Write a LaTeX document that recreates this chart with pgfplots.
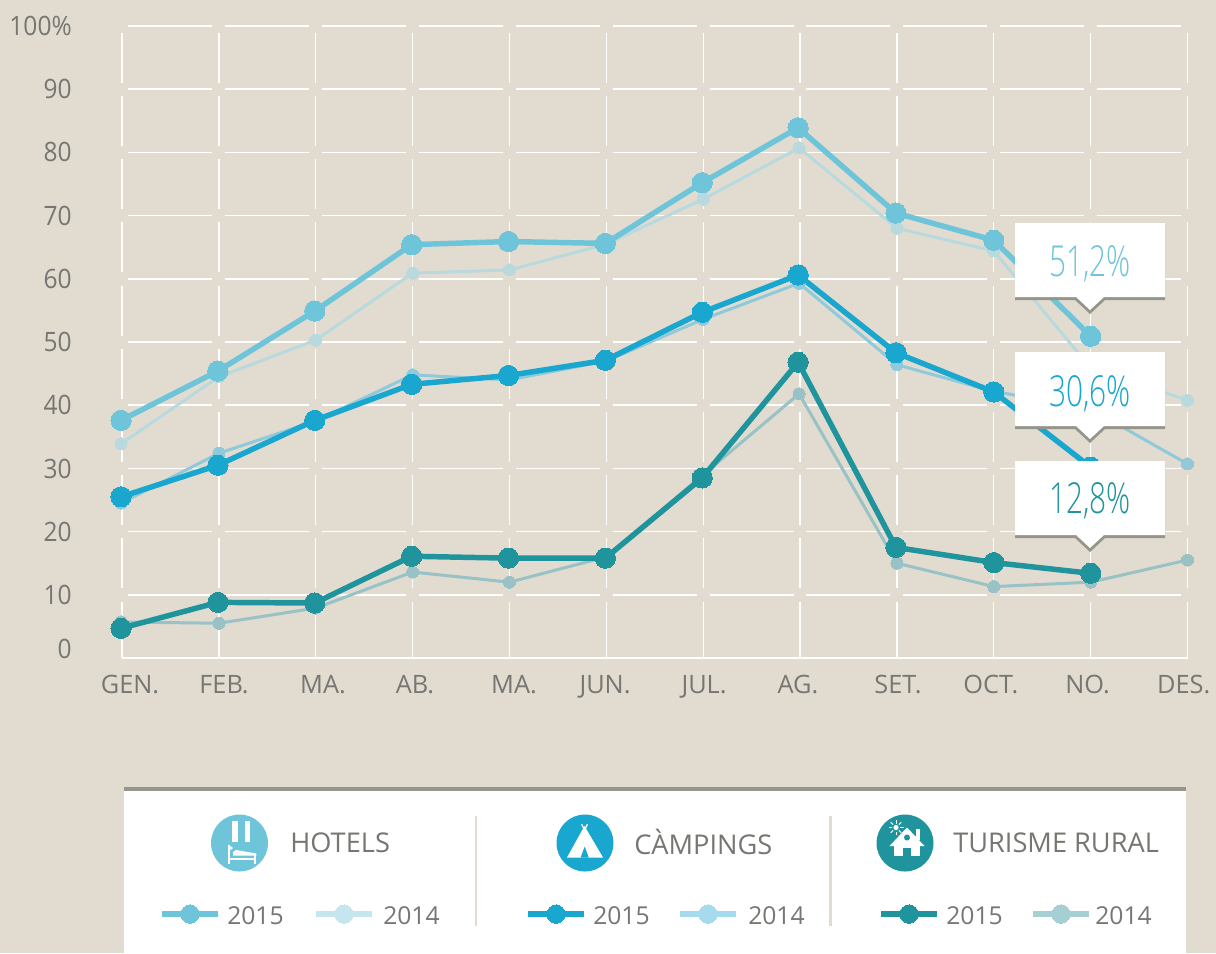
\documentclass[border=0pt]{standalone}
\usepackage{fontspec}
\usepackage{pgfplots}
\pgfplotsset{compat=1.18}
\setmainfont{Open Sans}
\newfontfamily\lightf[FakeStretch=0.70]{Open Sans Light}
\newfontfamily\condf[FakeStretch=0.92]{Open Sans}
\definecolor{bg}{HTML}{E2DCD0}
\definecolor{txt}{HTML}{767672}
\definecolor{stripe}{HTML}{96958A}
\definecolor{hot}{HTML}{6EC5DA}
\definecolor{cam}{HTML}{1AA7CF}
\definecolor{rur}{HTML}{1F949D}
\definecolor{hotb}{HTML}{B8DADE}
\definecolor{camb}{HTML}{90C9D9}
\definecolor{rurb}{HTML}{98C2C5}
\definecolor{hotl}{HTML}{C5E6EF}
\definecolor{caml}{HTML}{A5DBEC}
\definecolor{rurl}{HTML}{A5D0D3}
\pgfplotsset{
  y15/.style={line width=4.1pt, mark=*, mark size=7.6pt, mark options={solid,line width=0pt,draw=none}},
  y14/.style={line width=2.25pt, mark=*, mark size=4.5pt, mark options={solid,line width=0pt,draw=none}},
  leg/.style={line width=3.9pt, mark=*, mark size=6.9pt, mark options={solid,line width=0pt,draw=none}, forget plot},
}
\begin{document}
\begin{tikzpicture}
\begin{scope}[x=0.75pt,y=-0.75pt]
  \fill[bg] (0,0) rectangle (1216,953);
\end{scope}
\begin{axis}[
  at={(91.5pt,-493.5pt)}, anchor=origin,
  scale only axis, width=799.125pt, height=474pt,
  xmin=0, xmax=11, ymin=0, ymax=100, clip=false,
  axis lines=left,
  y axis line style={draw=none},
  x axis line style={white, line width=1.9pt, -},
  major tick length=0pt,
  tick style={draw=none},
  xtick={0.083,1.053,2.075,3.025,4.047,4.987,6.009,6.979,8.012,8.97,9.968,10.96},
  xticklabels={GEN.,FEB.,MA.,AB.,MA.,JUN.,JUL.,AG.,SET.,OCT.,NO.,DES.},
  xticklabel style={anchor=base, yshift=-26.25pt, text=txt, inner sep=0pt, font=\fontsize{19}{19}\selectfont},
  ytick={1.4,9.9,19.9,29.9,40,50,60,70,80,90,100},
  yticklabels={0,10,20,30,40,50,60,70,80,90,100\%},
  yticklabel style={anchor=east, xshift=-37.5pt, text=txt, inner sep=0pt, font=\fontsize{20}{20}\selectfont\condf},
  extra x ticks={0,1,2,3,4,5,6,7,8,9,10,11},
  extra x tick labels={},
  extra x tick style={xmajorgrids=true, major grid style={white, line width=1pt,
    dash pattern=on 42.3pt off 9.9pt on 37.5pt off 9.9pt on 37.5pt off 9.9pt on 37.5pt off 9.9pt on 37.5pt off 9.9pt on 37.5pt off 9.9pt on 37.5pt off 9.9pt on 37.5pt off 9.9pt on 37.5pt off 9.9pt on 37.5pt off 30pt}},
  extra y ticks={10,20,30,40,50,60,70,80,90,100},
  extra y tick labels={},
  extra y tick style={ymajorgrids=true, major grid style={white, line width=1.1pt,
    dash pattern=on 63pt off 9.645pt, dash phase=67.82pt}},
]
% Hotels 2014
\addplot[y14, color=hotb] coordinates {(-0.01,33.9)(1,44.5)(2,50.3)(3,60.9)(4,61.4)(5,65.5)(6,72.6)(6.99,80.7)(8,68)(9,64.4)(10,45.9)(11,40.8)};
% Campings 2014
\addplot[y14, color=camb] coordinates {(-0.01,24.5)(1,32.4)(2,37.5)(3,44.8)(4,44)(5,47)(6,53.6)(6.99,59.3)(8,46.4)(9,42.2)(10,39.4)(11,30.7)};
% Rural 2014
\addplot[y14, color=rurb] coordinates {(-0.01,5.7)(1,5.5)(2,7.9)(3,13.6)(4,12)(5,16)(6,29)(6.99,41.8)(8,15)(9,11.3)(10,12)(11,15.5)};
% 2015
\addplot[y15, color=hot] coordinates {(-0.01,37.6)(0.99,45.4)(1.99,54.9)(2.99,65.4)(3.99,65.9)(4.99,65.6)(5.99,75.2)(6.98,83.9)(7.99,70.4)(9,66.1)(10,50.9)};
\addplot[y15, color=cam] coordinates {(-0.01,25.5)(0.99,30.5)(1.99,37.6)(2.99,43.3)(3.99,44.7)(4.99,47.1)(5.99,54.7)(6.98,60.6)(7.99,48.3)(9,42.1)(10,30.2)};
\addplot[y15, color=rur] coordinates {(-0.01,4.7)(0.99,8.8)(1.99,8.7)(2.99,16.1)(3.99,15.8)(4.99,15.8)(5.99,28.5)(6.98,46.8)(7.99,17.5)(9,15.1)(10,13.4)};
\end{axis}
\begin{scope}[x=0.75pt,y=-0.75pt]
  % callouts
  \foreach \t/\c/\lab/\cy in {223/hot/{51,2\%}/264, 352/cam/{30,6\%}/394, 461/rur/{12,8\%}/501}{
    \fill[stripe] (1015,\t) -- (1165,\t) -- (1165,\t+77) -- (1105,\t+77) -- (1090,\t+91) -- (1075,\t+77) -- (1015,\t+77) -- cycle;
    \fill[white] (1015,\t) -- (1165,\t) -- (1165,\t+74) -- (1104,\t+74) -- (1090,\t+87) -- (1076,\t+74) -- (1015,\t+74) -- cycle;
    \node[text=\c, inner sep=0pt, font=\fontsize{32}{32}\selectfont\lightf] at (1090,\cy) {\lab};
  }
  % legend panel
  \fill[white] (124,787) rectangle (1186,953);
  \fill[stripe] (124,787) rectangle (1186,791);
  \fill[bg] (474.8,816) rectangle (477.4,926);
  \fill[bg] (829,816) rectangle (831.6,926);
  % icons
  \fill[hot] (239.5,843) circle[radius=28.5];
  \fill[white] (232,821) rectangle (237.5,842);
  \fill[white] (244.5,821) rectangle (250,842);
  \fill[white] (227.5,845) rectangle (230.3,863.5);
  \fill[white] (230.3,857.5) rectangle (256.4,859.5);
  \fill[white] (233,852) -- (236,850) -- (256.4,853.5) -- (256.4,855.5) -- (233,855.5) -- cycle;
  \fill[white] (253.5,855) rectangle (256.4,863.5);
  \fill[white] (231,848) circle[radius=1.8];
  \fill[cam] (585,843) circle[radius=28.5];
  \fill[white] (584.5,826) -- (567,857.5) -- (603,857.5) -- cycle;
  \draw[white, line width=1pt] (581.5,824) -- (584.5,830) -- (587.5,824);
  \fill[cam] (584.7,846.5) -- (580.6,857.6) -- (588.8,857.6) -- cycle;
  \fill[rur] (905,843) circle[radius=28.5];
  \fill[white] (907,827.5) -- (924.5,846) -- (889.5,846) -- cycle;
  \fill[white] (916.4,829) rectangle (919.6,840);
  \fill[white] (894,844) rectangle (920,855.5);
  \fill[rur] (903,848) rectangle (911,856);
  \fill[rur] (907,837.5) circle[radius=3];
  \fill[white] (896,827.5) circle[radius=2.6];
  \foreach \a in {0,45,...,315}{\draw[white, line width=0.6pt] (896,827.5) ++(\a:4) -- ++(\a:3.5);}
  % legend text
  \node[anchor=base west, inner sep=0pt, text=txt, font=\fontsize{20.4}{20}\selectfont] at (290,852.5) {HOTELS};
  \node[anchor=base west, inner sep=0pt, text=txt, font=\fontsize{20.4}{20}\selectfont] at (634,854) {CÀMPINGS};
  \node[anchor=base west, inner sep=0pt, text=txt, font=\fontsize{20.4}{20}\selectfont] at (953,852.5) {TURISME RURAL};
  \foreach \x/\l in {227/2015,383/2014,593/2015,748/2014,946/2015,1095/2014}{
    \node[anchor=base west, inner sep=0pt, text=txt, font=\fontsize{18.5}{18}\selectfont] at (\x,924) {\l};
  }
\end{scope}
% legend samples
\begin{axis}[
  at={(0pt,-714.75pt)}, anchor=south west,
  scale only axis, width=912pt, height=714.75pt,
  xmin=0, xmax=1216, ymin=0, ymax=953, y dir=reverse,
  hide axis, clip=false,
]
\addplot[leg, color=hot, mark indices={2}] coordinates {(162,914)(190,914)(218,914)};
\addplot[leg, color=hotl, mark indices={2}] coordinates {(316,914)(344,914)(372,914)};
\addplot[leg, color=cam, mark indices={2}] coordinates {(528,914)(556,914)(584,914)};
\addplot[leg, color=caml, mark indices={2}] coordinates {(680,914)(708,914)(736,914)};
\addplot[leg, color=rur, mark indices={2}] coordinates {(881,914)(909,914)(937,914)};
\addplot[leg, color=rurl, mark indices={2}] coordinates {(1033,914)(1061,914)(1089,914)};
\end{axis}
\end{tikzpicture}
\end{document}
